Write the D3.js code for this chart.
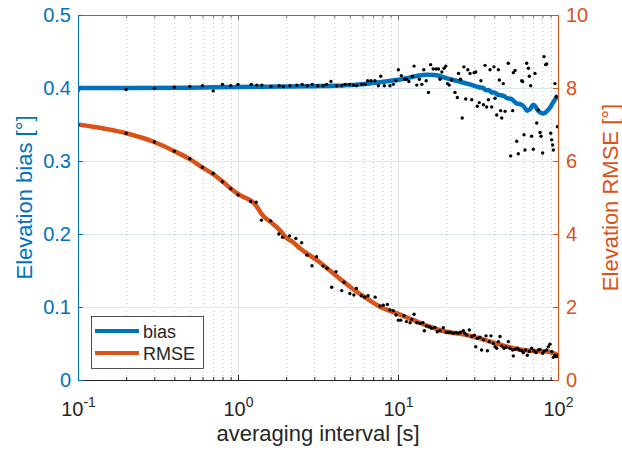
<!DOCTYPE html>
<html>
<head>
<meta charset="utf-8">
<script src="https://cdn.jsdelivr.net/npm/d3@7"></script>
<style>
  body { margin: 0; background: #fff; }
  svg text { font-family: "Liberation Sans", Arial, Helvetica, sans-serif; }
</style>
</head>
<body>
<svg id="chart" width="622" height="452"></svg>
<script>
// raw samples
var biasDotX = [0.1, 0.2, 0.3, 0.4, 0.5, 0.6, 0.7, 0.8, 0.9, 1.0, 1.21, 1.31, 1.41, 1.61, 1.81, 1.92, 2.11, 2.33, 2.52, 2.71,
  2.91, 3.15, 3.41, 3.58, 3.81, 4.14, 4.45, 4.67, 4.96, 5.26, 5.52, 5.93, 6.22, 6.46, 6.78, 7.18, 7.54, 7.8, 8.22, 8.9,
  9.35, 9.72, 10.05, 10.5, 11.0, 11.3, 11.7, 12.3, 12.6, 13.1, 13.6, 14.1, 14.5, 15.0, 15.5, 16.0, 16.6, 17.3, 17.9, 18.3,
  18.8, 19.4, 19.9, 20.4, 20.9, 21.6, 22.7, 23.5, 23.9, 24.6, 25.2, 25.8, 26.5, 27.3, 28.2, 28.9, 29.9, 30.6, 31.3, 32.2,
  33.0, 34.2, 35.0, 35.8, 36.7, 37.6, 38.5, 39.8, 40.4, 41.4, 42.4, 43.0, 43.8, 44.5, 45.5, 46.7, 48.9, 50.6, 52.1, 52.6,
  53.9, 55.2, 56.5, 59.3, 60.1, 61.3, 62.2, 63.7, 65.3, 66.2, 67.5, 68.4, 70.1, 71.8, 73.6, 75.3, 77.2, 78.3, 80.2, 81.8,
  83.7, 84.9, 90.0, 91.3, 92.6, 93.5, 95.7, 97.2, 99.1];
var biasDotY = [0.396, 0.398, 0.3995, 0.401, 0.402, 0.403, 0.396, 0.405, 0.403, 0.405, 0.405, 0.404, 0.404, 0.402, 0.403, 0.402, 0.403, 0.404, 0.405, 0.403,
  0.405, 0.403, 0.403, 0.405, 0.409, 0.403, 0.403, 0.405, 0.405, 0.404, 0.403, 0.405, 0.405, 0.410, 0.410, 0.410, 0.403, 0.416, 0.403, 0.403,
  0.405, 0.410, 0.425, 0.417, 0.412, 0.412, 0.409, 0.416, 0.430, 0.404, 0.412, 0.405, 0.425, 0.410, 0.394, 0.432, 0.426, 0.426, 0.426, 0.412,
  0.422, 0.427, 0.430, 0.406, 0.404, 0.411, 0.394, 0.387, 0.420, 0.412, 0.359, 0.429, 0.385, 0.425, 0.420, 0.384, 0.421, 0.422, 0.375, 0.380,
  0.410, 0.377, 0.431, 0.374, 0.384, 0.425, 0.374, 0.429, 0.386, 0.363, 0.425, 0.411, 0.369, 0.359, 0.406, 0.368, 0.434, 0.307, 0.369, 0.421,
  0.424, 0.327, 0.310, 0.410, 0.409, 0.336, 0.315, 0.434, 0.427, 0.416, 0.403, 0.334, 0.316, 0.420, 0.352, 0.370, 0.339, 0.334, 0.311, 0.443,
  0.432, 0.433, 0.338, 0.329, 0.322, 0.315, 0.406, 0.388, 0.347];

var rmseDotX = [0.1, 0.2, 0.3, 0.4, 0.5, 0.6, 0.7, 0.8, 0.9, 1.0, 1.2, 1.3, 1.4, 1.6, 1.8, 1.9, 2.1, 2.3, 2.5, 2.7,
  2.9, 3.1, 3.4, 3.6, 3.85, 4.1, 4.45, 4.6, 5.0, 5.3, 5.5, 5.9, 6.2, 6.5, 7.2, 7.72, 8.09, 8.58, 8.91, 9.35,
  9.72, 10.05, 10.39, 10.9, 11.3, 11.9, 12.2, 12.6, 13.1, 13.7, 14.3, 14.6, 15.1, 15.7, 16.2, 17.0, 17.6, 18.3, 19.2, 20.0,
  20.6, 21.3, 22.2, 23.0, 23.8, 24.6, 25.6, 26.2, 26.9, 27.9, 28.9, 30.0, 30.6, 31.3, 32.5, 33.3, 34.2, 35.5, 36.2, 37.2,
  38.1, 39.4, 40.4, 41.4, 42.4, 43.4, 44.5, 46.0, 47.3, 48.9, 50.1, 52.1, 52.6, 53.9, 55.7, 57.3, 59.3, 60.7, 62.8, 64.3,
  66.2, 68.4, 70.8, 72.9, 75.3, 77.2, 80.2, 81.8, 84.9, 87.0, 89.1, 91.3, 93.5, 95.7, 98.1, 100];
var rmseDotY = [6.99, 6.76, 6.52, 6.27, 6.06, 5.83, 5.66, 5.43, 5.24, 5.07, 4.89, 4.87, 4.38, 4.36, 4.00, 3.91, 3.95, 3.88, 3.76, 3.42,
  3.13, 3.38, 3.12, 3.06, 2.54, 2.97, 2.45, 2.68, 2.37, 2.33, 2.51, 2.31, 2.27, 2.31, 2.27, 2.03, 2.05, 2.07, 1.92, 1.90,
  1.78, 1.64, 1.64, 1.76, 1.60, 1.57, 1.66, 1.80, 1.57, 1.55, 1.57, 1.35, 1.48, 1.46, 1.42, 1.44, 1.32, 1.35, 1.43, 1.31,
  1.31, 1.31, 1.28, 1.30, 1.28, 1.31, 1.35, 1.28, 1.23, 1.37, 1.19, 1.23, 0.91, 1.14, 1.17, 0.82, 1.10, 1.21, 0.80, 1.05,
  1.21, 1.00, 0.91, 0.87, 1.05, 1.19, 0.93, 0.87, 0.90, 1.05, 0.87, 0.82, 0.66, 0.84, 0.87, 0.82, 0.80, 0.75, 0.82, 0.68,
  0.78, 0.87, 0.80, 0.75, 0.82, 0.84, 0.73, 0.79, 0.82, 0.91, 0.98, 0.78, 0.62, 0.68, 0.64, 0.68];

// smoothed curves
var biasLineX = [0.1, 0.2, 0.5, 1, 2, 3, 4, 5, 6, 7.7, 9, 10.5, 12, 13.5, 15, 17, 20, 24, 27, 30,
  32, 34, 35.5, 37, 38.5, 40, 42, 44, 46, 48, 51, 53, 55, 58, 61, 64, 67, 70, 72, 75,
  78, 81, 85, 89, 93, 97, 100];
var biasLineY = [0.400, 0.400, 0.4005, 0.4015, 0.402, 0.4025, 0.403, 0.404, 0.405, 0.408, 0.410, 0.412, 0.4145, 0.417, 0.418, 0.4178, 0.4135, 0.409, 0.406, 0.403,
  0.401, 0.400, 0.397, 0.397, 0.394, 0.394, 0.391, 0.390, 0.389, 0.386, 0.385, 0.382, 0.379, 0.378, 0.375, 0.369, 0.371, 0.377, 0.375, 0.369,
  0.366, 0.365, 0.368, 0.373, 0.380, 0.386, 0.390];

var rmseLineX = [0.1, 0.2, 0.3, 0.4, 0.5, 0.6, 0.7, 0.8, 0.9, 1.0, 1.1, 1.22, 1.3, 1.4, 1.5, 1.6, 1.83, 2.0, 2.2, 2.45,
  2.8, 3.3, 3.8, 4.3, 5.2, 6.35, 7.7, 9.8, 12.5, 15.8, 20.1, 24, 26.9, 32.6, 41.3, 52.6, 67, 85, 100];
var rmseLineY = [7.0, 6.76, 6.52, 6.27, 6.05, 5.82, 5.64, 5.44, 5.25, 5.1, 5.0, 4.9, 4.77, 4.56, 4.42, 4.33, 4.1, 3.9, 3.78, 3.6,
  3.42, 3.2, 2.98, 2.79, 2.5, 2.24, 2.01, 1.83, 1.64, 1.46, 1.32, 1.27, 1.23, 1.14, 1.0, 0.87, 0.80, 0.78, 0.68];

var xTicks = [0.1, 1, 10, 100];
var xTickExp = ["-1", "0", "1", "2"];
var xMinor = [0.2, 0.3, 0.4, 0.5, 0.6, 0.7, 0.8, 0.9, 2, 3, 4, 5, 6, 7, 8, 9, 20, 30, 40, 50, 60, 70, 80, 90];
var biasTicks = [0, 0.1, 0.2, 0.3, 0.4, 0.5];
var rmseTicks = [0, 2, 4, 6, 8, 10];

var BLUE = "#0072BD", ORANGE = "#D95319", DARK = "#262626";

var L = 78, R = 558, T = 15, B = 380;

var svg = d3.select("#chart");

var x = d3.scaleLog().domain([0.1, 100]).range([L, R]);
var yBias = d3.scaleLinear().domain([0, 0.5]).range([B, T]);
var yRmse = d3.scaleLinear().domain([0, 10]).range([B, T]);

function px(v) { return Math.round(v) + 0.5; }

// grid
var grid = svg.append("g");
grid.selectAll("line.minor").data(xMinor).enter().append("line")
  .attr("x1", function(d) { return px(x(d)); }).attr("x2", function(d) { return px(x(d)); })
  .attr("y1", T).attr("y2", B)
  .attr("stroke", "#c6c6c6").attr("stroke-dasharray", "1,3");
grid.selectAll("line.vmajor").data(xTicks).enter().append("line")
  .attr("x1", function(d) { return px(x(d)); }).attr("x2", function(d) { return px(x(d)); })
  .attr("y1", T).attr("y2", B)
  .attr("stroke", "#dfe2e5");
grid.selectAll("line.hmajor").data(biasTicks).enter().append("line")
  .attr("x1", L).attr("x2", R)
  .attr("y1", function(d) { return px(yBias(d)); }).attr("y2", function(d) { return px(yBias(d)); })
  .attr("stroke", "#dbe6f0");

// data
svg.append("clipPath").attr("id", "plotclip").append("rect")
  .attr("x", L).attr("y", T).attr("width", R - L).attr("height", B - T);
var plot = svg.append("g").attr("clip-path", "url(#plotclip)");

var biasLine = d3.line().curve(d3.curveMonotoneX)
  .x(function(d, i) { return x(biasLineX[i]); })
  .y(function(d) { return yBias(d); });
var rmseLine = d3.line().curve(d3.curveMonotoneX)
  .x(function(d, i) { return x(rmseLineX[i]); })
  .y(function(d) { return yRmse(d); });

plot.append("path").datum(biasLineY).attr("d", biasLine)
  .attr("fill", "none").attr("stroke", BLUE).attr("stroke-width", 4.5);
plot.selectAll("circle.bias").data(biasDotY).enter().append("circle")
  .attr("cx", function(d, i) { return x(biasDotX[i]); })
  .attr("cy", function(d) { return yBias(d); })
  .attr("r", 1.7).attr("fill", "#000");

plot.append("path").datum(rmseLineY).attr("d", rmseLine)
  .attr("fill", "none").attr("stroke", ORANGE).attr("stroke-width", 4.5);
plot.selectAll("circle.rmse").data(rmseDotY).enter().append("circle")
  .attr("cx", function(d, i) { return x(rmseDotX[i]); })
  .attr("cy", function(d) { return yRmse(d); })
  .attr("r", 1.7).attr("fill", "#000");

// axes
function styleAxis(g, color, size) {
  g.attr("font-family", null).attr("font-size", null);
  g.select(".domain").attr("stroke", color);
  g.selectAll(".tick line").attr("stroke", color);
  g.selectAll(".tick text").attr("fill", color).style("font-size", size + "px");
}

svg.append("g").attr("transform", "translate(0," + B + ")")
  .call(d3.axisBottom(x).tickValues(xMinor).tickSize(-3).tickSizeOuter(0).tickFormat(""))
  .call(styleAxis, DARK, 20);
svg.append("g").attr("transform", "translate(0," + T + ")")
  .call(d3.axisTop(x).tickValues(xMinor).tickSize(-3).tickSizeOuter(0).tickFormat(""))
  .call(styleAxis, "#6e6e6e", 20);
svg.append("g").attr("transform", "translate(0," + T + ")")
  .call(d3.axisTop(x).tickValues(xTicks).tickSize(-5).tickSizeOuter(0).tickFormat(""))
  .call(styleAxis, "#6e6e6e", 20);

var xAxis = svg.append("g").attr("transform", "translate(0," + B + ")")
  .call(d3.axisBottom(x).tickValues(xTicks).tickSize(-5).tickSizeOuter(0).tickPadding(22).tickFormat(function() { return "10"; }))
  .call(styleAxis, DARK, 20);
xAxis.selectAll(".tick text").append("tspan")
  .attr("dy", "-9").style("font-size", "14px")
  .text(function(d, i) { return xTickExp[i]; });

svg.append("g").attr("transform", "translate(" + L + ",0)")
  .call(d3.axisLeft(yBias).tickValues(biasTicks).tickSize(-5).tickSizeOuter(0).tickPadding(7).tickFormat(d3.format("")))
  .call(styleAxis, BLUE, 20);

svg.append("g").attr("transform", "translate(" + R + ",0)")
  .call(d3.axisRight(yRmse).tickValues(rmseTicks).tickSize(-5).tickSizeOuter(0).tickPadding(8))
  .call(styleAxis, ORANGE, 20);

// axis titles
svg.append("text").attr("x", 318).attr("y", 441).attr("text-anchor", "middle")
  .attr("fill", DARK).style("font-size", "22px").text("averaging interval [s]");
svg.append("text").attr("transform", "translate(32," + ((T + B) / 2) + ") rotate(-90)")
  .attr("text-anchor", "middle").attr("fill", BLUE).style("font-size", "22px")
  .text("Elevation bias [°]");
svg.append("text").attr("transform", "translate(618," + ((T + B) / 2) + ") rotate(-90)")
  .attr("text-anchor", "middle").attr("fill", ORANGE).style("font-size", "22px")
  .text("Elevation RMSE [°]");

// legend
var legend = svg.append("g").attr("transform", "translate(91,316)");
legend.append("rect").attr("x", 0.5).attr("y", 0.5).attr("width", 112).attr("height", 52)
  .attr("fill", "#fff").attr("stroke", DARK).attr("stroke-width", 0.8);
var items = [["bias", BLUE], ["RMSE", ORANGE]];
items.forEach(function(it, i) {
  var yy = 15 + i * 22;
  legend.append("line").attr("x1", 4).attr("x2", 48).attr("y1", yy).attr("y2", yy)
    .attr("stroke", it[1]).attr("stroke-width", 4);
  legend.append("text").attr("x", 52).attr("y", yy + 6.5).attr("fill", DARK)
    .style("font-size", "18px").text(it[0]);
});
</script>
</body>
</html>
